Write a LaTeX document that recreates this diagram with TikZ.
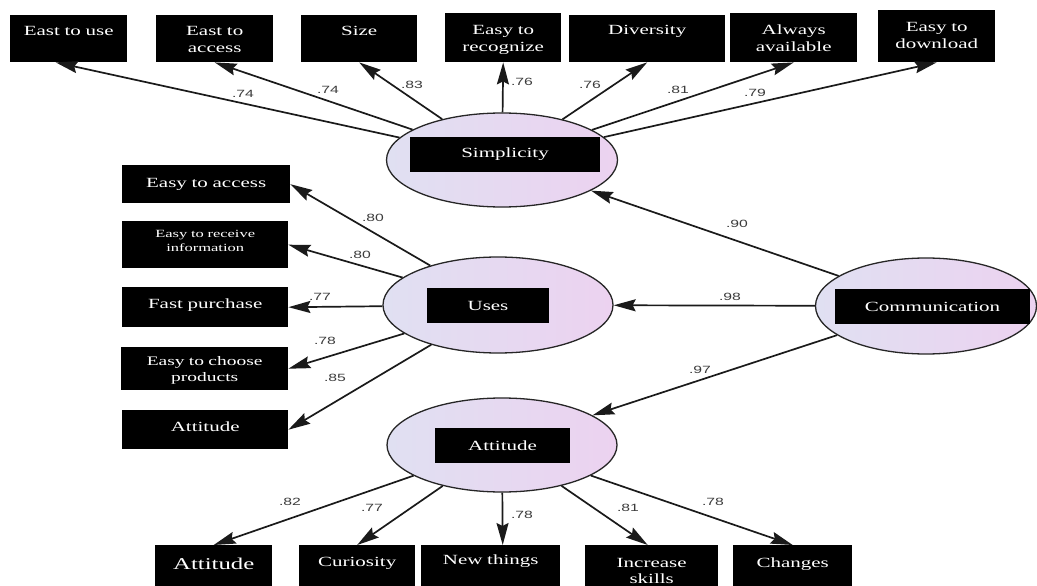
\documentclass[tikz,border=0pt]{standalone}
\usepackage{fontspec}
\usetikzlibrary{shapes.geometric,arrows.meta}
\newfontfamily\bxf[FakeStretch=1.5]{Liberation Serif}
\newfontfamily\cof[FakeStretch=1.5]{Liberation Sans}
\definecolor{elA}{HTML}{E0E0F2}
\definecolor{elB}{HTML}{ECD2F0}
\definecolor{lnc}{HTML}{1A1A1A}
\definecolor{cfc}{HTML}{3C3C3C}
\tikzset{
  bx/.style={fill=black, text=white, inner sep=0pt, anchor=north west, align=center,
    font=\bxf\fontsize{14}{17.5}\selectfont},
  ib/.style={fill=black, text=white, inner sep=0pt, minimum height=35pt,
    font=\bxf\fontsize{14}{17.5}\selectfont},
  lv/.style={ellipse, draw=black!85, line width=1.3pt, left color=elA, right color=elB,
    inner sep=0pt},
  tipst/.tip={Stealth[length=22pt,width=12pt,inset=3pt]},
  arr/.style={draw=lnc, line width=1.7pt, -tipst},
  cf/.style={text=cfc, font=\cof\fontsize{10.5}{12}\selectfont, inner sep=0pt}
}
\begin{document}
\begin{tikzpicture}[x=1pt,y=-1pt]
\useasboundingbox (0,0) rectangle (1037,586);
\clip (0,0) rectangle (1037,586);
\fill[white] (0,0) rectangle (1037,586);

% latent variables
\node[lv, minimum width=231pt, minimum height=94pt] (simp) at (502,160) {};
\node[lv, minimum width=230pt, minimum height=96pt] (uses) at (498,305) {};
\node[lv, minimum width=221pt, minimum height=96pt] (comm) at (926,306) {};
\node[lv, minimum width=230pt, minimum height=94pt] (att) at (502,445) {};

\node[ib, minimum width=190pt] (simpl) at (505,154.5) {Simplicity};
\node[ib, minimum width=122pt] (usesl) at (488,305.5) {Uses};
\node[ib, minimum width=195pt] (comml) at (932.5,306.5) {Communication};
\node[ib, minimum width=135pt] (attl) at (502.5,445.5) {Attitude};

% top indicators
\node[bx, text width=117pt, text height=20pt, text depth=27pt] (eu) at (10,15) {East to use};
\node[bx, text width=117pt, text height=20pt, text depth=27pt] (ea) at (156,15) {East to\\access};
\node[bx, text width=116pt, text height=20pt, text depth=27pt] (sz) at (301,15) {Size};
\node[bx, text width=116pt, text height=21pt, text depth=28pt] (er) at (445,13) {Easy to\\recognize};
\node[bx, text width=156pt, text height=19pt, text depth=28pt] (dv) at (569,15) {Diversity};
\node[bx, text width=127pt, text height=21pt, text depth=28pt] (aa) at (730,13) {Always\\available};
\node[bx, text width=117pt, text height=21pt, text depth=31pt] (ed) at (878,10) {Easy to\\download};

% left indicators
\node[bx, text width=168pt, text height=22pt, text depth=16pt] (lea) at (122,165) {Easy to access};
\node[bx, text width=166pt, text height=16pt, text depth=31pt,
  font=\bxf\fontsize{11}{14}\selectfont] (lri) at (122,221) {Easy to receive\\information};
\node[bx, text width=166pt, text height=21pt, text depth=19pt] (lfp) at (122,287) {Fast purchase};
\node[bx, text width=167pt, text height=18pt, text depth=25pt,
  font=\bxf\fontsize{13}{16}\selectfont] (lcp) at (121,347) {Easy to choose\\products};
\node[bx, text width=166pt, text height=21pt, text depth=18pt] (lat) at (122,410) {Attitude};

% bottom indicators
\node[bx, text width=117pt, text height=24pt, text depth=30pt,
  font=\bxf\fontsize{16.5}{19}\selectfont] (bat) at (155,545) {Attitude};
\node[bx, text width=116pt, text height=21pt, text depth=33pt] (bcu) at (299,545) {Curiosity};
\node[bx, text width=139pt, text height=19pt, text depth=35pt] (bnt) at (421,545) {New things};
\node[bx, text width=133pt, text height=22pt, text depth=32pt,
  font=\bxf\fontsize{14}{16}\selectfont] (bis) at (585,545) {Increase\\skills};
\node[bx, text width=119pt, text height=22pt, text depth=32pt] (bch) at (733,545) {Changes};

% Simplicity loadings
\draw[arr] (simp) -- ([xshift=-13pt]eu.south) node[cf] at (243,94) {.74};
\draw[arr] (simp) -- (ea.south) node[cf] at (328,90) {.74};
\draw[arr] (simp) -- (sz.south) node[cf] at (412,85) {.83};
\draw[arr] (simp) -- (er.south) node[cf] at (522,82) {.76};
\draw[arr] (simp) -- (dv.south) node[cf] at (590,85) {.76};
\draw[arr] (simp) -- (aa.south) node[cf] at (678,90) {.81};
\draw[arr] (simp) -- (ed.south) node[cf] at (755,93) {.79};

% Uses loadings
\draw[arr] (uses) -- (lea.east) node[cf] at (373,218) {.80};
\draw[arr] (uses) -- (lri.east) node[cf] at (360,255) {.80};
\draw[arr] (uses) -- (lfp.east) node[cf] at (320,297) {.77};
\draw[arr] (uses) -- (lcp.east) node[cf] at (325,341) {.78};
\draw[arr] (uses) -- (lat.east) node[cf] at (335,378) {.85};

% Attitude loadings
\draw[arr] (att) -- (bat.north) node[cf] at (290,502) {.82};
\draw[arr] (att) -- (bcu.north) node[cf] at (372,508) {.77};
\draw[arr] (att) -- ([xshift=12pt]bnt.north) node[cf] at (522,515) {.78};
\draw[arr] (att) -- ([xshift=-4pt]bis.north) node[cf] at (628,508) {.81};
\draw[arr] (att) -- (bch.north) node[cf] at (713,502) {.78};

% structural paths
\draw[arr] (comm) -- (simp) node[cf] at (737,224) {.90};
\draw[arr] (comm) -- (uses) node[cf] at (730,297) {.98};
\draw[arr] (comm) -- (att) node[cf] at (700,370) {.97};
\end{tikzpicture}
\end{document}
